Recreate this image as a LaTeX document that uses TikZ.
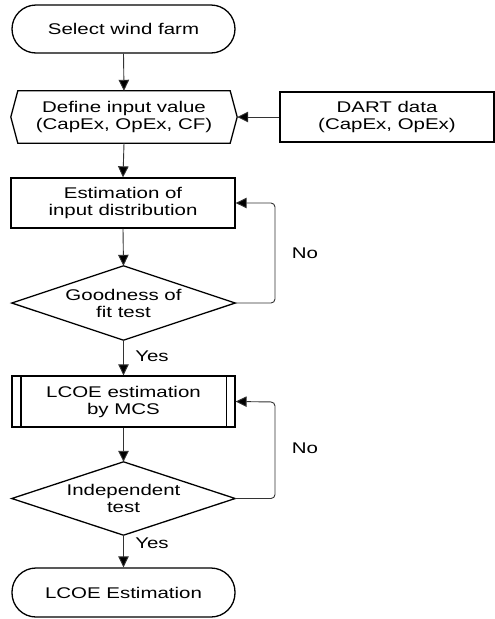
\documentclass[tikz,border=0pt]{standalone}
\usepackage{fontspec}
\setmainfont{Liberation Sans}[FakeStretch=1.32]
\usetikzlibrary{arrows.meta}
\begin{document}
\begin{tikzpicture}[x=1pt,y=-1pt,
  every node/.style={font=\fontsize{15.5}{17}\selectfont, align=center, inner sep=0pt},
  shapeline/.style={line width=1.3pt, black},
  conn/.style={line width=0.9pt, black!80, -{Triangle[length=11pt,width=10.5pt,fill=black]}},
  loopline/.style={conn, rounded corners=4pt},
  termbox/.style={draw, shapeline, rectangle, rounded corners=24pt, minimum width=223pt, minimum height=48pt},
  procbox/.style={draw, shapeline, rectangle, minimum width=224pt, minimum height=50pt},
  area/.style={rectangle, minimum width=#1},
  lbl/.style={font=\fontsize{15.5}{17}\selectfont}
]
\useasboundingbox (0,0) rectangle (495,619);

\node[termbox] (start) at (123.5,29) {Select wind farm};

\node[area=226pt, minimum height=52pt] (hex) at (124,117) {Define input value\\(CapEx, OpEx, CF)};
\draw[shapeline] (hex.west) -- ([xshift=7pt]hex.north west) -- ([xshift=-7pt]hex.north east)
  -- (hex.east) -- ([xshift=-7pt]hex.south east) -- ([xshift=7pt]hex.south west) -- cycle;

\node[procbox, minimum width=214pt] (dart) at (387,117) {DART data\\(CapEx, OpEx)};

\node[procbox] (est) at (123,203) {Estimation of\\input distribution};

\node[area=223pt, minimum height=74pt] (gof) at (123.5,303) {Goodness of\\fit test};
\draw[shapeline] (gof.west) -- (gof.north) -- (gof.east) -- (gof.south) -- cycle;

\node[procbox, minimum width=223pt, minimum height=51pt] (lcoe) at (123.5,401.5) {LCOE estimation\\by MCS};
\draw[shapeline] ([xshift=9.5pt]lcoe.north west) -- ([xshift=9.5pt]lcoe.south west);
\draw[shapeline] ([xshift=-9.5pt]lcoe.north east) -- ([xshift=-9.5pt]lcoe.south east);

\node[area=223pt, minimum height=73pt] (ind) at (123.5,498.5) {Independent\\test};
\draw[shapeline] (ind.west) -- (ind.north) -- (ind.east) -- (ind.south) -- cycle;

\node[termbox, minimum height=49pt] (finish) at (123.5,592.5) {LCOE Estimation};

\coordinate (l1a) at (275,303);
\coordinate (l1b) at (275,203);
\coordinate (l2a) at (275,498.5);
\coordinate (l2b) at (275,402);

\draw[conn] (start.south) -- (hex.north);
\draw[conn] (dart.west) -- (hex.east);
\draw[conn] (hex.south) -- (est.north);
\draw[conn] (est.south) -- (gof.north);
\draw[conn] (gof.south) -- (lcoe.north);
\draw[loopline] (gof.east) -- (l1a) -- (l1b) -- (est.east);
\draw[conn] (lcoe.south) -- (ind.north);
\draw[conn] (ind.south) -- (finish.north);
\draw[loopline] (ind.east) -- (l2a) -- (l2b) -- (lcoe.east);

\node[lbl] (no1) at (305,253) {No};
\node[lbl] (yes1) at (152,356) {Yes};
\node[lbl] (no2) at (305,448) {No};
\node[lbl] (yes2) at (152,543) {Yes};
\end{tikzpicture}
\end{document}
